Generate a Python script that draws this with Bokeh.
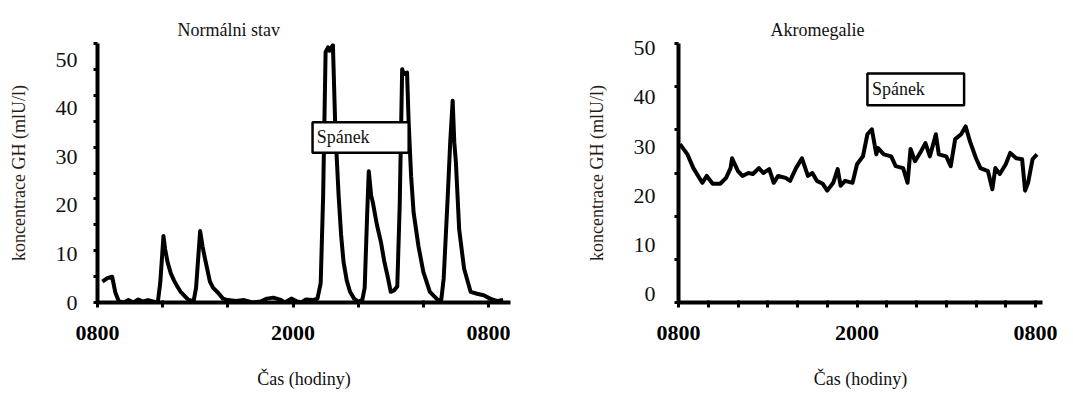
from bokeh.plotting import figure
from bokeh.layouts import row
from bokeh.models import Range1d, FixedTicker, Label, BoxAnnotation
from bokeh.embed import file_html
from bokeh.resources import INLINE
import numpy as np

# ---------------- data ----------------
# hours after 08:00
normal_hours = [0.3, 0.6, 0.9, 1.1, 1.3, 1.6, 1.9, 2.2, 2.5, 2.8, 3.1, 3.4, 3.7,
                3.85, 4.05, 4.15, 4.3, 4.5, 4.7, 4.9, 5.1, 5.3, 5.6, 5.9,
                6.05, 6.2, 6.3, 6.45, 6.6, 6.9, 7.1, 7.4, 7.7, 8.0,
                8.5, 9.0, 9.5, 10.0, 10.4, 10.8, 11.2, 11.5, 11.9, 12.2, 12.5, 12.8, 13.2, 13.5,
                13.7, 13.85, 14.0, 14.15, 14.25, 14.45, 14.6, 14.8, 14.95, 15.1, 15.3, 15.5, 15.75, 16.0,
                16.25, 16.4, 16.55, 16.65, 16.8, 16.9, 17.15, 17.4, 17.6, 17.8, 18.0, 18.2, 18.4,
                18.55, 18.7, 18.8, 19.0, 19.1, 19.25, 19.4, 19.7, 20.0, 20.4, 20.9,
                21.1, 21.25, 21.5, 21.65, 21.8, 21.9, 22.0, 22.2, 22.5, 22.9, 23.3, 23.7, 24.1, 24.55, 24.9]
normal_gh = [4.3, 5.0, 5.3, 2.0, 0.3, 0.0, 0.5, 0.0, 0.6, 0.2, 0.5, 0.2, 0.0,
             4.0, 13.7, 11.0, 8.3, 6.0, 4.5, 3.3, 2.2, 1.5, 0.5, 0.3,
             3.0, 10.0, 14.7, 11.5, 9.0, 4.3, 3.0, 2.0, 0.8, 0.5,
             0.3, 0.5, 0.0, 0.2, 0.8, 1.0, 0.6, 0.0, 0.8, 0.3, 0.0, 0.6, 0.5, 0.8,
             4.0, 22.0, 51.5, 52.5, 51.8, 53.0, 35.5, 22.0, 14.0, 8.4, 4.5, 2.2, 0.8, 0.2,
             0.5, 3.0, 18.0, 27.0, 22.0, 20.6, 16.0, 12.4, 8.5, 5.5, 2.2, 2.5, 3.3,
             20.0, 48.0, 47.0, 47.3, 37.0, 26.0, 18.6, 11.6, 6.3, 2.2, 0.5,
             0.5, 5.0, 22.0, 33.0, 41.5, 33.0, 28.8, 15.0, 7.0, 2.2, 1.8, 1.5, 0.8, 0.3, 0.5]

acro_hours = [0.1, 0.6, 1.0, 1.6, 1.9, 2.3, 2.8, 3.2, 3.5, 3.6, 4.0, 4.3, 4.7, 5.0,
              5.4, 5.7, 6.1, 6.4, 6.7, 7.2, 7.5, 7.9, 8.3, 8.7, 9.0, 9.3, 9.7, 10.0,
              10.4, 10.7, 10.9, 11.2, 11.7, 12.0, 12.4, 12.7, 13.0, 13.3, 13.4, 13.8,
              14.3, 14.6, 15.1, 15.4, 15.6, 15.9, 16.3, 16.6, 16.9, 17.3, 17.5, 18.0,
              18.3, 18.6, 19.0, 19.3, 19.6, 20.0, 20.3, 20.8, 21.1, 21.3, 21.6, 22.0,
              22.3, 22.7, 23.1, 23.3, 23.5, 23.8, 24.1]
acro_gh = [30.5, 28.4, 25.6, 22.6, 24.0, 22.4, 22.4, 23.6, 25.6, 27.6, 25.0, 24.0, 24.6, 24.4,
           25.6, 24.6, 25.4, 22.6, 24.0, 23.6, 23.0, 25.6, 27.6, 24.0, 24.6, 23.0, 22.4, 21.0,
           22.6, 25.4, 22.0, 23.0, 22.6, 26.4, 28.0, 32.5, 33.5, 28.4, 29.7, 28.4,
           28.0, 26.0, 25.6, 22.6, 29.5, 27.0, 29.0, 30.7, 28.0, 32.5, 28.4, 28.0,
           26.0, 31.5, 32.5, 34.1, 31.0, 27.6, 25.6, 25.0, 21.3, 25.6, 24.4, 26.4,
           28.7, 27.6, 27.4, 21.0, 22.6, 27.4, 28.4]

x_tick_hours = [0, 12, 24]
x_tick_labels = ["0800", "2000", "0800"]
y_tick_values = [0, 10, 20, 30, 40, 50]

SERIF = "'Liberation Serif', 'Times New Roman', serif"
INK = "#111111"
HEIGHT = 393


def panel(title, hours, gh, width, b_left, b_right, b_top, b_bottom,
          x_end, y_start, y_end, x_minor, n_y_marks, title_offset,
          y_label_standoff, box, box_text_xy):
    p = figure(width=width, height=HEIGHT, output_backend="svg", toolbar_location=None,
               x_range=Range1d(0, x_end), y_range=Range1d(y_start, y_end),
               min_border_left=b_left, min_border_right=b_right,
               min_border_top=b_top, min_border_bottom=b_bottom)
    p.outline_line_color = None
    p.grid.visible = False
    p.background_fill_color = "white"
    p.border_fill_color = "white"

    p.title.text = title
    p.title.align = "left"
    p.title.offset = title_offset
    p.title.text_font = SERIF
    p.title.text_font_size = "18px"
    p.title.text_font_style = "normal"
    p.title.text_color = INK
    p.title.standoff = 8

    p.line(hours, gh, line_color="black", line_width=4, line_join="round")

    # x axis
    xa = p.xaxis[0]
    xa.ticker = FixedTicker(ticks=x_tick_hours, minor_ticks=x_minor)
    xa.major_label_overrides = {h: l for h, l in zip(x_tick_hours, x_tick_labels)}
    xa.major_label_text_font = SERIF
    xa.major_label_text_font_style = "bold"
    xa.major_label_text_font_size = "22px"
    xa.major_label_text_color = "black"
    xa.major_label_standoff = 18
    xa.axis_line_width = 4
    xa.axis_line_color = "black"
    xa.major_tick_in = 2
    xa.major_tick_out = 5
    xa.major_tick_line_width = 3
    xa.minor_tick_in = 2
    xa.minor_tick_out = 5
    xa.minor_tick_line_width = 3
    xa.axis_label = "Čas (hodiny)"
    xa.axis_label_text_font = SERIF
    xa.axis_label_text_font_size = "18px"
    xa.axis_label_text_font_style = "normal"
    xa.axis_label_text_color = INK
    xa.axis_label_standoff = 26

    # y axis
    ya = p.yaxis[0]
    ya.ticker = FixedTicker(ticks=y_tick_values,
                            minor_ticks=list(np.linspace(y_start, y_end, n_y_marks)))
    ya.major_label_text_font = SERIF
    ya.major_label_text_font_size = "22px"
    ya.major_label_text_color = INK
    ya.major_label_standoff = y_label_standoff
    ya.axis_line_width = 4
    ya.axis_line_color = "black"
    ya.major_tick_in = 0
    ya.major_tick_out = 0
    ya.minor_tick_in = 0
    ya.minor_tick_out = 4
    ya.minor_tick_line_width = 3
    ya.axis_label = "koncentrace GH (mlU/l)"
    ya.axis_label_text_font = SERIF
    ya.axis_label_text_font_size = "18px"
    ya.axis_label_text_font_style = "normal"
    ya.axis_label_text_color = "#2a1a12"
    ya.axis_label_standoff = 24

    left, right, bottom, top = box
    p.add_layout(BoxAnnotation(left=left, right=right, bottom=bottom, top=top,
                               fill_color="white", fill_alpha=1.0,
                               line_color="black", line_width=2.5, line_alpha=1.0))
    p.add_layout(Label(x=box_text_xy[0], y=box_text_xy[1], text="Spánek",
                       text_font=SERIF, text_font_size="18px", text_color=INK,
                       text_baseline="middle", text_align="left"))
    return p


p1 = panel("Normálni stav", normal_hours, normal_gh, 568, 97, 58, 43, 89,
           25.35, 0, 53.3, [4, 8, 16, 20], 11, 80, 16,
           (13.2, 19.1, 30.8, 37.1), (13.45, 34.0))
p2 = panel("Akromegalie", acro_hours, acro_gh, 505, 110, 31, 42, 91,
           24.47, -1.8, 51.0, [2, 4, 6, 8, 10, 14, 16, 18, 20, 22], 7, 92, 19,
           (12.7, 19.2, 38.4, 44.9), (13.0, 41.7))

layout = row(p1, p2)
open("out.html", "w").write(file_html(layout, INLINE))
